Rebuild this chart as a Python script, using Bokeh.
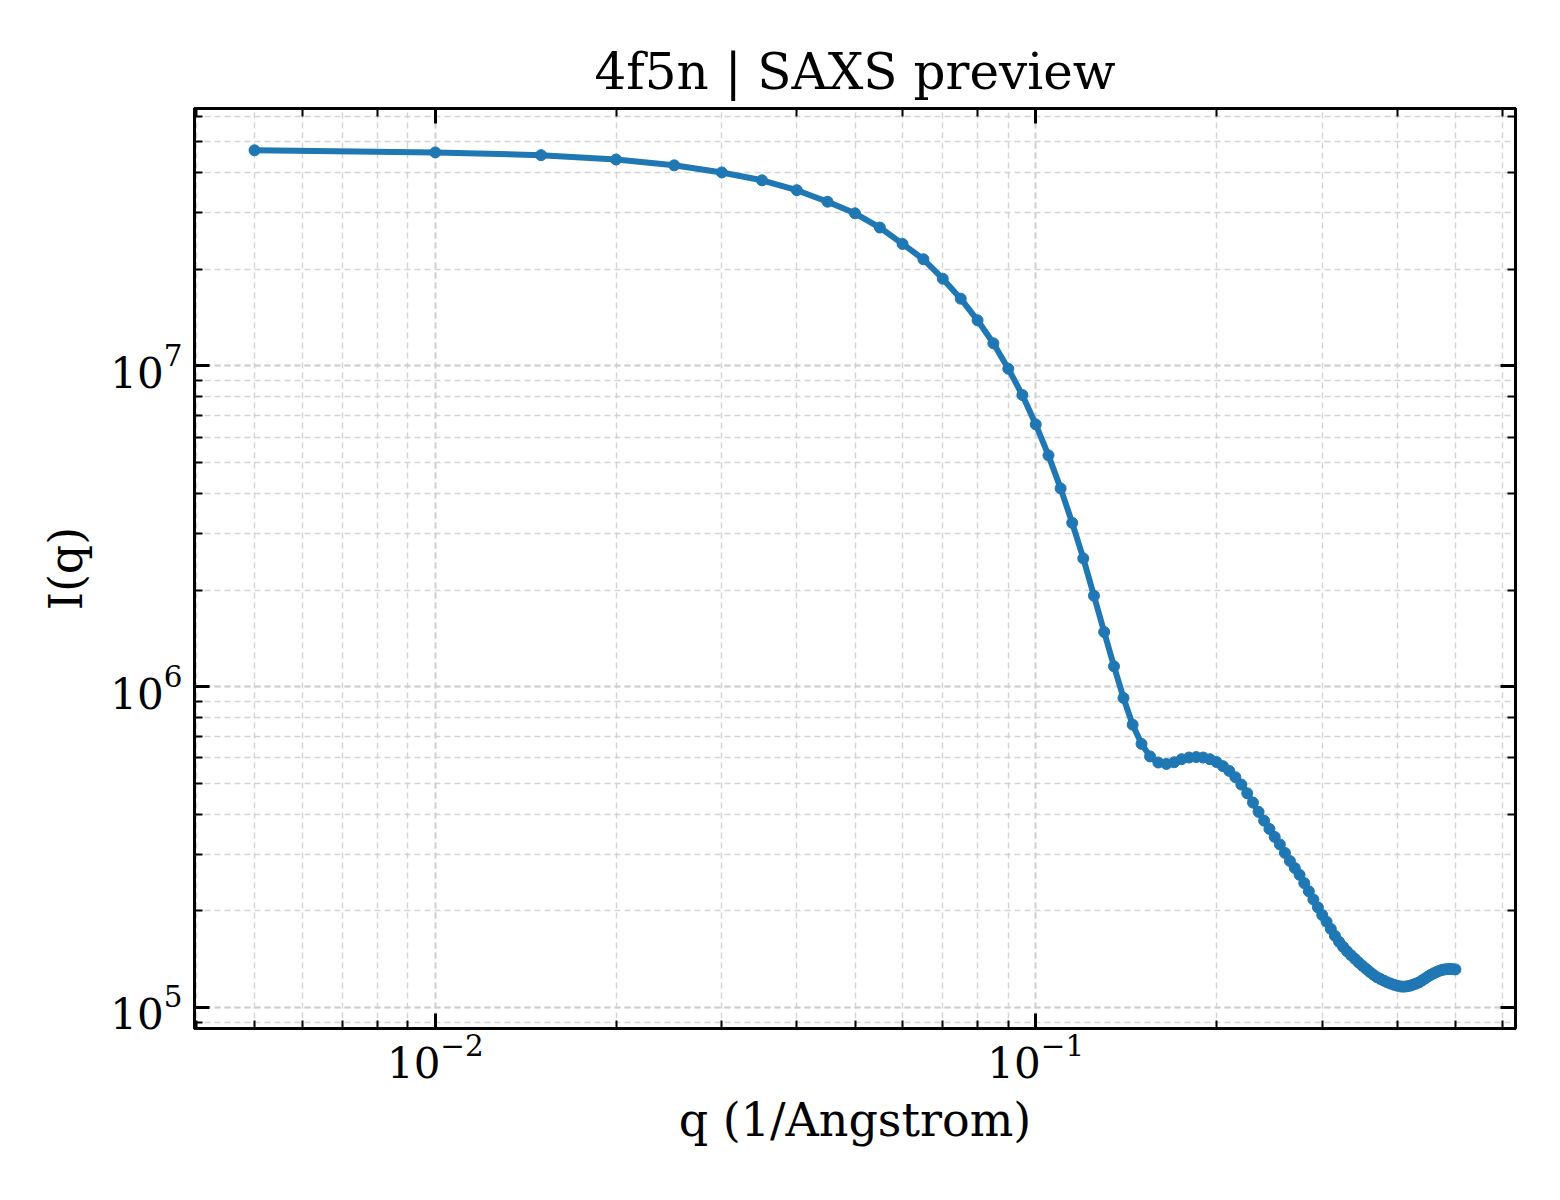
import math
from bokeh.plotting import figure
from bokeh.models import LogAxis, LogTicker, Range1d
from bokeh.embed import file_html
from bokeh.resources import INLINE

# ---- data ----
q = [0.005, 0.010, 0.015, 0.020, 0.025, 0.030, 0.035, 0.040, 0.045, 0.050,
     0.055, 0.060, 0.065, 0.070, 0.075, 0.080, 0.085, 0.090, 0.095, 0.100,
     0.105, 0.110, 0.115, 0.120, 0.125, 0.130, 0.135, 0.140, 0.145, 0.150,
     0.155, 0.160, 0.165, 0.170, 0.175, 0.180, 0.185, 0.190, 0.195, 0.200,
     0.205, 0.210, 0.215, 0.220, 0.225, 0.230, 0.235, 0.240, 0.245, 0.250,
     0.255, 0.260, 0.265, 0.270, 0.275, 0.280, 0.285, 0.290, 0.295, 0.300,
     0.305, 0.310, 0.315, 0.320, 0.325, 0.330, 0.335, 0.340, 0.345, 0.350,
     0.355, 0.360, 0.365, 0.370, 0.375, 0.380, 0.385, 0.390, 0.395, 0.400,
     0.405, 0.410, 0.415, 0.420, 0.425, 0.430, 0.435, 0.440, 0.445, 0.450,
     0.455, 0.460, 0.465, 0.470, 0.475, 0.480, 0.485, 0.490, 0.495, 0.500]

intensity = [4.70e7, 4.63e7, 4.54e7, 4.40e7, 4.22e7, 4.01e7, 3.79e7, 3.53e7, 3.25e7, 2.99e7,
             2.70e7, 2.40e7, 2.15e7, 1.87e7, 1.62e7, 1.387e7, 1.176e7, 9.80e6, 8.11e6, 6.57e6,
             5.26e6, 4.15e6, 3.24e6, 2.51e6, 1.92e6, 1.48e6, 1.157e6, 9.22e5, 7.61e5, 6.63e5,
             6.06e5, 5.80e5, 5.74e5, 5.81e5, 5.94e5, 6.01e5, 6.03e5, 6.01e5, 5.94e5, 5.82e5,
             5.65e5, 5.46e5, 5.22e5, 4.95e5, 4.65e5, 4.35e5, 4.07e5, 3.82e5, 3.60e5, 3.40e5,
             3.22e5, 3.03e5, 2.86e5, 2.72e5, 2.59e5, 2.44e5, 2.30e5, 2.17e5, 2.05e5, 1.94e5,
             1.85e5, 1.757e5, 1.671e5, 1.601e5, 1.544e5, 1.495e5, 1.454e5, 1.417e5, 1.380e5, 1.347e5,
             1.318e5, 1.290e5, 1.264e5, 1.242e5, 1.226e5, 1.211e5, 1.197e5, 1.186e5, 1.176e5, 1.168e5,
             1.162e5, 1.160e5, 1.163e5, 1.168e5, 1.177e5, 1.186e5, 1.197e5, 1.213e5, 1.230e5, 1.248e5,
             1.263e5, 1.277e5, 1.289e5, 1.300e5, 1.308e5, 1.313e5, 1.317e5, 1.317e5, 1.315e5, 1.313e5]

title_text = "4f5n | SAXS preview"
x_label = "q (1/Angstrom)"
y_label = "I(q)"

FONT = "DejaVu Serif"
LINE_COLOR = "#1f77b4"
GRID_COLOR = "#cfcfcf"


def log_pad_range(vals, frac=0.05):
    lo, hi = math.log10(min(vals)), math.log10(max(vals))
    pad = (hi - lo) * frac
    return Range1d(10 ** (lo - pad), 10 ** (hi + pad))


p = figure(
    frame_width=1321, frame_height=920,
    x_axis_type="log", y_axis_type="log",
    x_range=log_pad_range(q), y_range=log_pad_range(intensity),
    output_backend="svg", toolbar_location=None,
    min_border_left=194, min_border_top=108, min_border_right=30, min_border_bottom=150,
    background_fill_color="white", border_fill_color="white",
)

p.title.text = title_text
p.title.text_font = FONT
p.title.text_font_size = "50px"
p.title.text_font_style = "normal"
p.title.align = "center"
p.title.text_color = "black"
p.title.standoff = 16

p.outline_line_color = "black"
p.outline_line_width = 3

# grid: dashed major + minor
for g in (p.xgrid, p.ygrid):
    g.grid_line_color = GRID_COLOR
    g.grid_line_dash = "6 4"
    g.grid_line_width = 1.8
    g.minor_grid_line_color = GRID_COLOR
    g.minor_grid_line_dash = "6 4"
    g.minor_grid_line_width = 1.4
    g.minor_grid_line_alpha = 0.9


def style_axis(ax, show_labels=True):
    ax.axis_line_color = "black"
    ax.axis_line_width = 3
    ax.major_tick_in = 15
    ax.major_tick_out = 0
    ax.minor_tick_in = 8
    ax.minor_tick_out = 0
    ax.major_tick_line_width = 3
    ax.minor_tick_line_width = 2
    ax.major_tick_line_color = "black"
    ax.minor_tick_line_color = "black"
    ax.major_label_text_font = FONT
    if show_labels:
        ax.major_label_text_color = "black"
        ax.major_label_text_font_size = "42px"
        ax.major_label_standoff = 12
        ax.axis_label_text_font = FONT
        ax.axis_label_text_font_size = "46px"
        ax.axis_label_text_font_style = "normal"
        ax.axis_label_text_color = "black"
    else:
        ax.major_label_text_font_size = "2px"
        ax.major_label_text_alpha = 0.0
        ax.major_label_standoff = 0


style_axis(p.xaxis[0])
style_axis(p.yaxis[0])
p.xaxis[0].axis_label = x_label
p.yaxis[0].axis_label = y_label
p.xaxis[0].major_label_standoff = 5
p.xaxis[0].axis_label_standoff = 12
p.yaxis[0].axis_label_standoff = 14

top_ax = LogAxis(ticker=LogTicker())
right_ax = LogAxis(ticker=LogTicker())
style_axis(top_ax, show_labels=False)
style_axis(right_ax, show_labels=False)
p.add_layout(top_ax, "above")
p.add_layout(right_ax, "right")

p.line(q, intensity, line_color=LINE_COLOR, line_width=6)
p.scatter(q, intensity, size=11, fill_color=LINE_COLOR, line_color=LINE_COLOR)

open("out.html", "w").write(file_html(p, INLINE))
